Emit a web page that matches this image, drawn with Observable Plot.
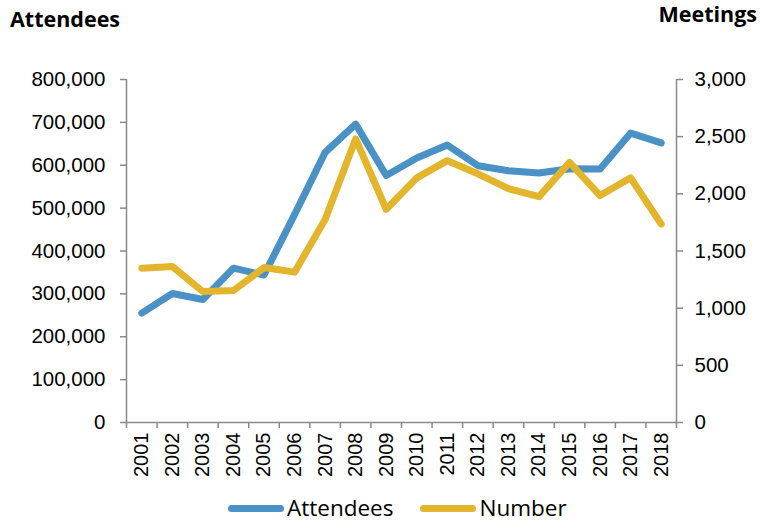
<!DOCTYPE html>
<html>
<head>
<meta charset="utf-8">
<script src="https://cdn.jsdelivr.net/npm/d3@7"></script>
<script src="https://cdn.jsdelivr.net/npm/@observablehq/plot@0.6"></script>
<style>
  html, body { margin: 0; padding: 0; background: #fff; }
  #wrap { position: relative; width: 760px; height: 524px; overflow: hidden; font-family: "Liberation Sans", Arial, sans-serif; }
  #chart { position: absolute; left: 0; top: 0; }
  .title { position: absolute; font-family: "Open Sans", "Noto Sans", sans-serif; font-weight: 700; font-size: 21.5px; line-height: 24px; color: #000; white-space: nowrap; }
  #legend { position: absolute; left: 228px; top: 496px; height: 24px; display: flex; align-items: center; font-family: "Open Sans", "Noto Sans", sans-serif; font-size: 22.5px; line-height: 24px; color: #000; }
  .sw { display: inline-block; width: 56px; height: 7px; border-radius: 4px; margin-right: 3px; }
  .item { display: flex; align-items: center; margin-right: 27px; }
</style>
</head>
<body>
<div id="wrap">
  <div id="chart"></div>
  <div class="title" style="left:10px; top:7px;">Attendees</div>
  <div class="title" style="right:3px; top:2px;">Meetings</div>
  <div id="legend"></div>
</div>
<script>
// ---- data ----
const years = [2001,2002,2003,2004,2005,2006,2007,2008,2009,2010,2011,2012,2013,2014,2015,2016,2017,2018];
const attendees = [255000,301000,287000,360000,344000,485000,630000,696000,576000,617000,647000,599000,587000,582000,592000,591000,675000,652000];
const meetings = [1350,1365,1145,1155,1355,1315,1775,2480,1865,2140,2290,2175,2045,1975,2275,1985,2140,1735];
const leftTicks = [0,100000,200000,300000,400000,500000,600000,700000,800000];
const rightTicks = [0,500,1000,1500,2000,2500,3000];
const seriesNames = ["Attendees", "Number"];
const seriesColors = ["#4A91C6", "#E2B52C"];

// ---- scales ----
const leftMax = 800000, rightMax = 3000;
const ratio = leftMax / rightMax;
const fmt = d3.format(",");

const rowsA = years.map((y, i) => ({year: y, value: attendees[i]}));
const rowsM = years.map((y, i) => ({year: y, value: meetings[i] * ratio}));
const boundaries = years.map(y => y - 0.5).concat([years[years.length - 1] + 0.5]);
const xDomain = [boundaries[0], boundaries[boundaries.length - 1]];
const axisColor = "#898989";

const chart = Plot.plot({
  width: 760,
  height: 524,
  marginTop: 79,
  marginBottom: 102,
  marginLeft: 126,
  marginRight: 84,
  style: {fontFamily: "'Liberation Sans', Arial, sans-serif", fontSize: "20px", color: "#000", background: "transparent", overflow: "visible"},
  x: {type: "linear", domain: xDomain, axis: null},
  y: {domain: [0, leftMax], axis: null},
  marks: [
    Plot.ruleY([0], {stroke: axisColor, strokeWidth: 1.5}),
    Plot.ruleX(xDomain, {stroke: axisColor, strokeWidth: 1.5}),
    Plot.axisX(boundaries, {tickSize: 6, tickFormat: () => "", label: null, stroke: axisColor, strokeWidth: 1.5}),
    Plot.axisX(years, {tickSize: 0, tickRotate: -90, tickPadding: 10, label: null, tickFormat: d => String(d), fontSize: 20}),
    Plot.axisY(leftTicks, {anchor: "left", tickSize: 6, tickPadding: 15, label: null, tickFormat: fmt, stroke: axisColor, strokeWidth: 1.5, fontSize: 20.5}),
    Plot.axisY(rightTicks.map(v => v * ratio), {anchor: "right", tickSize: 6, tickPadding: 12, label: null, tickFormat: d => fmt(Math.round(d / ratio)), stroke: axisColor, strokeWidth: 1.5, fontSize: 20.5}),
    Plot.lineY(rowsA, {x: "year", y: "value", stroke: seriesColors[0], strokeWidth: 7, strokeLinejoin: "round", strokeLinecap: "round"}),
    Plot.lineY(rowsM, {x: "year", y: "value", stroke: seriesColors[1], strokeWidth: 7, strokeLinejoin: "round", strokeLinecap: "round"})
  ]
});
chart.querySelectorAll("text").forEach(t => t.setAttribute("fill", "#000"));
document.getElementById("chart").appendChild(chart);

const legend = document.getElementById("legend");
seriesNames.forEach((name, i) => {
  const item = document.createElement("div");
  item.className = "item";
  const sw = document.createElement("span");
  sw.className = "sw";
  sw.style.background = seriesColors[i];
  const label = document.createElement("span");
  label.textContent = name;
  item.appendChild(sw);
  item.appendChild(label);
  legend.appendChild(item);
});
</script>
</body>
</html>
